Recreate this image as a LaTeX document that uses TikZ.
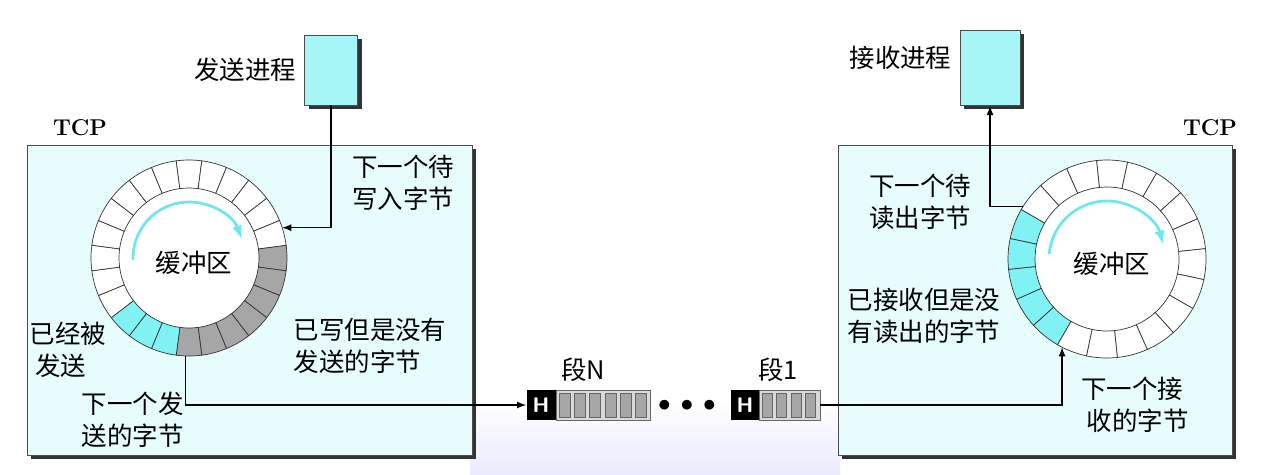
\documentclass[tikz,border=0pt]{standalone}
\usepackage{fontspec}
\newfontfamily\cjk{Noto Sans CJK SC}
\usetikzlibrary{arrows, calc, positioning, shapes}
\definecolor{boxbg}{HTML}{E6FCFD}
\definecolor{cellcyan}{HTML}{80F2F4}
\definecolor{cellgray}{HTML}{A6A6A6}
\definecolor{arccyan}{HTML}{6FE6F0}
\tikzset
{%
tcpbox/.style={draw=black!70, fill=boxbg, line width=0.5pt},
shadow/.style={fill=black!80},
procbox/.style={draw=black!70, fill=cellcyan!70, line width=0.5pt},
txt/.style={font=\cjk\fontsize{14.5}{18}\selectfont, align=left, inner sep=1pt},
tcp/.style={font=\bfseries\fontsize{13}{15}\selectfont, inner sep=1pt},
conn/.style={line width=0.8pt},
hbox/.style={fill=black, text=white, font=\sffamily\bfseries\large, minimum width=29*0.02cm, minimum height=30*0.02cm, inner sep=0pt}
}
\begin{document}
\begin{tikzpicture}[x=0.02cm, y=-0.02cm]
	\useasboundingbox (0,0) rectangle (1266,474);
	% watermark
	\shade[top color=white, bottom color=blue!8!white] (470,400) rectangle (840,474);

	% TCP BOXES
	\fill[shadow] (31,149) rectangle (476,459);
	\draw[tcpbox] (27,145) rectangle (472,455);
	\fill[shadow] (842,149) rectangle (1236,459);
	\draw[tcpbox] (838,145) rectangle (1232,455);
	\node[tcp] (tcpl) at (80,128) {TCP};
	\node[tcp] (tcpr) at (1210,128) {TCP};

	% PROCESSES
	\fill[shadow] (309,39) rectangle (362,109);
	\node[procbox, minimum width=53*0.02cm, minimum height=70*0.02cm] (send) at (331,70) {};
	\node[txt, left=6 of send] {发送进程};
	\fill[shadow] (964,34) rectangle (1024,109);
	\node[procbox, minimum width=60*0.02cm, minimum height=75*0.02cm] (recv) at (990,68) {};
	\node[txt, left=6 of recv.north west, anchor=north east, yshift=-8] {接收进程};

	% SEND RING
	\begin{scope}[shift={(189,258)}, y=0.02cm]
		\fill[white] (0,0) circle (98);
		\foreach \k in {0,...,23} {
			\pgfmathsetmacro{\a}{7.5-15*\k}
			\ifnum\k<7 \def\cc{cellgray}\else\ifnum\k<10 \def\cc{cellcyan}\else\def\cc{white}\fi\fi
			\filldraw[fill=\cc, draw=black!80] (\a:70) arc (\a:\a-15:70) -- (\a-15:98) arc (\a-15:\a:98) -- cycle;
		}
		\draw[arccyan, line width=1.6pt, -latex] (182:56) arc (182:20:56);
		\node[txt] (bufl) at (5,-5) {缓冲区};
		\coordinate (wr) at (18:98);
		\coordinate (nx) at (-92:98);
	\end{scope}

	% RECV RING
	\begin{scope}[shift={(1107,259)}, y=0.02cm]
		\fill[white] (0,0) circle (99);
		\foreach \k in {0,...,19} {
			\pgfmathsetmacro{\a}{240-18*\k}
			\ifnum\k<5 \def\cc{cellcyan}\else\def\cc{white}\fi
			\filldraw[fill=\cc, draw=black!80] (\a:72) arc (\a:\a-18:72) -- (\a-18:99) arc (\a-18:\a:99) -- cycle;
		}
		\draw[arccyan, line width=1.6pt, -latex] (175:58) arc (175:15:58);
		\node[txt] (bufr) at (5,-5) {缓冲区};
		\coordinate (rd) at (148:99);
		\coordinate (rc) at (243:99);
	\end{scope}

	% SEGMENTS
	\node[hbox] (hn) at (541,405) {H};
	\draw[fill=black!15, draw=black!60] (556,390) rectangle (650,420);
	\foreach \i in {0,...,5}
		\fill[cellgray, draw=black!60] (559+\i*15.3,393) rectangle (570+\i*15.3,417);
	\node[hbox] (h1) at (745,405) {H};
	\draw[fill=black!15, draw=black!60] (759,390) rectangle (820,420);
	\foreach \i in {0,...,3}
		\fill[cellgray, draw=black!60] (762+\i*14.5,393) rectangle (772+\i*14.5,417);
	\coordinate (s1) at (820,405);
	\node[inner sep=0pt] (dots) at (687,406) {\Large$\bullet\,\bullet\,\bullet$};
	\node[txt] (ln) at (583,370) {段N};
	\node[txt] (l1) at (778,370) {段1};

	% LABELS
	\node[txt] at (403,183) {下一个待\\写入字节};
	\node[txt] at (370,346) {已写但是没有\\发送的字节};
	\node[txt] at (68,350) {已经被\\\ 发送};
	\node[txt, align=right, anchor=east] at (186,420) {下一个发\\送的字节};
	\node[txt] at (920,202) {下一个待\\读出字节};
	\node[txt] at (924,316) {已接收但是没\\有读出的字节};
	\node[txt] at (1135,405) {下一个接\\\ 收的字节};

	% CONNECTORS
	\draw[conn, -latex] (send.south) |- (wr);
	\draw[conn, -latex] (nx) |- (hn.west);
	\draw[conn, -latex] (s1) -| (rc);
	\draw[conn, -latex] (rd) -| (recv.south);
\end{tikzpicture}
\end{document}
